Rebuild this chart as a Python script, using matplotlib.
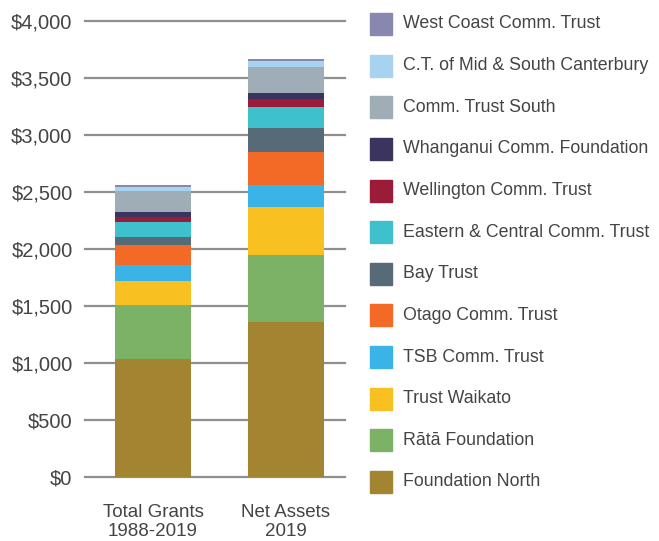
import matplotlib.pyplot as plt
from matplotlib.patches import Rectangle

# Дані (мільйони $)
bars = ['Total Grants\n1988-2019', 'Net Assets\n2019']
trusts = [
    'Foundation North', 'Rātā Foundation', 'Trust Waikato', 'TSB Comm. Trust',
    'Otago Comm. Trust', 'Bay Trust', 'Eastern & Central Comm. Trust',
    'Wellington Comm. Trust', 'Whanganui Comm. Foundation', 'Comm. Trust South',
    'C.T. of Mid & South Canterbury', 'West Coast Comm. Trust',
]
grants = [1036, 474, 211, 140, 176, 70, 132, 44, 44, 185, 35, 17]
assets = [1362, 588, 415, 199, 290, 210, 184, 70, 53, 228, 53, 17]
colors = ['#A38431', '#7BB266', '#F8C020', '#3AB4E6', '#F26A25', '#566A78',
          '#3EC1CC', '#9B1B3A', '#3B345E', '#9EADB6', '#A5D3F0', '#8787AF']

plt.rcParams['font.family'] = ['Liberation Sans', 'DejaVu Sans']
txt = '#444444'

fig = plt.figure(figsize=(6.59, 5.41), dpi=100)
ax = fig.add_axes([85 / 659, 63.7 / 541, 260 / 659, 456.4 / 541])

bottom = [0, 0]
for name, g, a, c in zip(trusts, grants, assets, colors):
    ax.bar([0, 1], [g, a], bottom=bottom, width=0.571, color=c, zorder=3)
    bottom = [bottom[0] + g, bottom[1] + a]

ax.set_xlim(-0.511, 1.444)
ax.set_ylim(0, 4000)
ax.set_yticks(range(0, 4001, 500))
ax.set_yticklabels([f'${v:,}' for v in range(0, 4001, 500)])
ax.set_xticks([0, 1])
ax.set_xticklabels(bars, linespacing=1.15)
ax.tick_params(length=0, labelsize=14.5, colors=txt, pad=9)
ax.tick_params(axis='x', labelsize=13.5, pad=19)
for s in ax.spines.values():
    s.set_visible(False)
ax.grid(axis='y', color='#8f8f8f', linewidth=1.6, zorder=0)
ax.set_axisbelow(True)
for gl in ax.get_ygridlines():
    gl.set_clip_on(False)

# Легенда вручну
for i, (name, c) in enumerate(zip(trusts, colors)):
    yc = 482 - i * 41.64
    fig.add_artist(Rectangle((370 / 659, (541 - yc - 11) / 541), 22 / 659, 22 / 541,
                             transform=fig.transFigure, color=c))
    fig.text(403 / 659, (541 - yc) / 541, name, va='center', ha='left',
             fontsize=12.8, color=txt)

fig.savefig('out.png', dpi=100)
